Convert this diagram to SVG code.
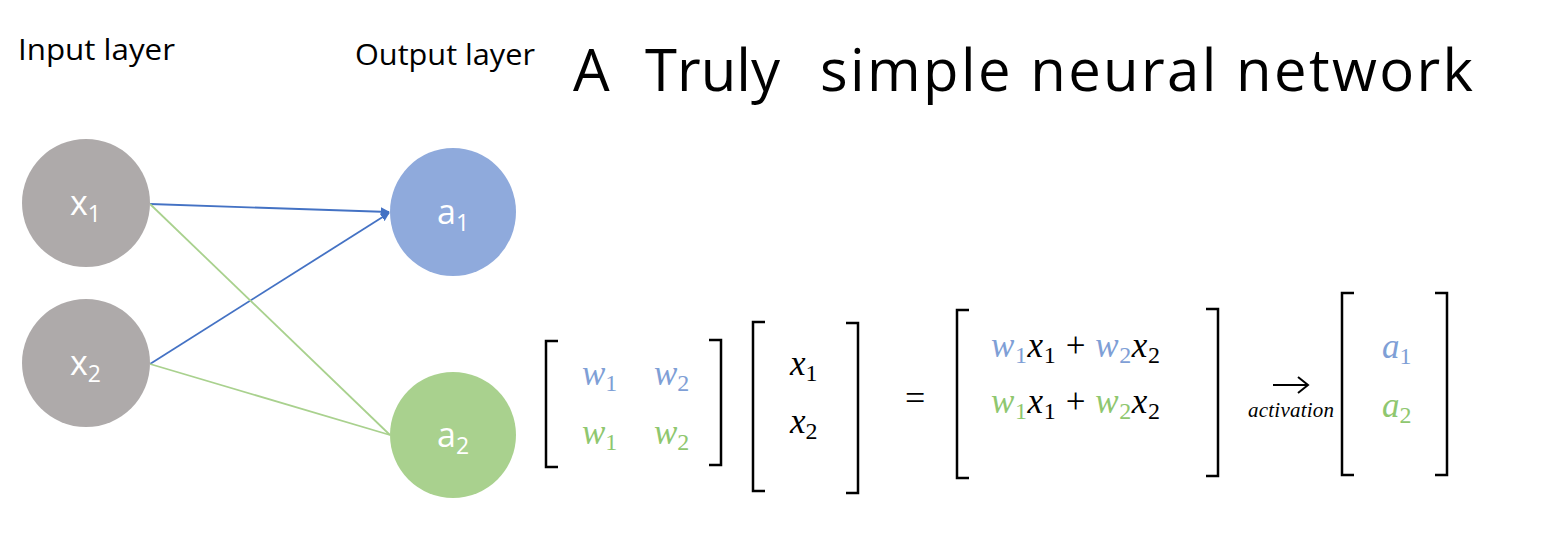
<svg xmlns="http://www.w3.org/2000/svg" width="1547" height="537" viewBox="0 0 1547 537">
<style>
.lbl{font-family:"Open Sans","Liberation Sans",sans-serif;fill:#000;font-size:29px}
.node{font-family:"Open Sans","Liberation Sans",sans-serif;fill:#fff;font-size:34px}
.sub{font-size:23px}
.m{font-family:"Liberation Serif","DejaVu Serif",serif;font-style:italic;font-size:35px}
.ms{font-family:"Liberation Serif","DejaVu Serif",serif;font-style:normal;font-size:24px}
.br{fill:none;stroke:#000;stroke-width:2.5}
.b{fill:#7f9fd6}
.g{fill:#8fc76f}
.k{fill:#000}
</style>
<defs>
<marker id="ah" viewBox="0 0 10 10" refX="9" refY="5" markerWidth="5" markerHeight="5" orient="auto">
<path d="M0,0 L10,5 L0,10 z" fill="#4472c4"/>
</marker>
</defs>
<rect width="1547" height="537" fill="#fff"/>
<text class="lbl" x="18" y="60" textLength="157" lengthAdjust="spacingAndGlyphs">Input layer</text>
<text class="lbl" x="355" y="65" textLength="180" lengthAdjust="spacingAndGlyphs">Output layer</text>
<g id="title" font-family="Open Sans,Liberation Sans,sans-serif" font-size="58">
<text x="573" y="91">A</text>
<text x="645" y="91" textLength="135">Truly</text>
<text x="820" y="91" textLength="653">simple neural network</text>
</g>
<g id="connectors" stroke-width="1.8" fill="none">
<line x1="150" y1="204" x2="389" y2="212" stroke="#4472c4" marker-end="url(#ah)"/>
<line x1="150" y1="364" x2="389" y2="213" stroke="#4472c4" marker-end="url(#ah)"/>
<line x1="150" y1="204" x2="390" y2="435" stroke="#a9d18e"/>
<line x1="150" y1="364" x2="390" y2="435" stroke="#a9d18e"/>
</g>
<g id="x1"><ellipse cx="86" cy="203" rx="64" ry="64" fill="#aeaaaa"/><text class="node" x="70" y="215">x<tspan class="sub" dy="7">1</tspan></text></g>
<g id="x2"><ellipse cx="86" cy="363" rx="64" ry="64" fill="#aeaaaa"/><text class="node" x="70" y="375">x<tspan class="sub" dy="7">2</tspan></text></g>
<g id="a1"><ellipse cx="453" cy="212" rx="63" ry="64" fill="#8faadc"/><text class="node" x="437" y="224">a<tspan class="sub" dy="7">1</tspan></text></g>
<g id="a2"><ellipse cx="453" cy="435" rx="63" ry="63" fill="#a9d18e"/><text class="node" x="437" y="447">a<tspan class="sub" dy="7">2</tspan></text></g>
<g id="matrixW">
<path class="br" d="M558,341 H546 V467 H558"/>
<path class="br" d="M709,340 H721 V465 H709"/>
<text class="m b" x="582" y="385">w<tspan class="ms" dy="6">1</tspan></text>
<text class="m b" x="654" y="385">w<tspan class="ms" dy="6">2</tspan></text>
<text class="m g" x="582" y="444">w<tspan class="ms" dy="6">1</tspan></text>
<text class="m g" x="654" y="444">w<tspan class="ms" dy="6">2</tspan></text>
</g>
<g id="vectorX">
<path class="br" d="M765,322 H753 V491 H765"/>
<path class="br" d="M846,323 H858 V493 H846"/>
<text class="m k" x="790" y="375">x<tspan class="ms" dy="6">1</tspan></text>
<text class="m k" x="790" y="433">x<tspan class="ms" dy="6">2</tspan></text>
</g>
<text font-family="Liberation Serif,serif" font-size="36" x="905" y="410">=</text>
<g id="result">
<path class="br" d="M969,310 H957 V478 H969"/>
<path class="br" d="M1206,309 H1218 V476 H1206"/>
<text class="m" x="991" y="357" textLength="169"><tspan class="b">w</tspan><tspan class="ms b" dy="6">1</tspan><tspan class="k" dy="-6">x</tspan><tspan class="ms k" dy="6">1</tspan><tspan class="k" dy="-6" font-style="normal"> + </tspan><tspan class="b">w</tspan><tspan class="ms b" dy="6">2</tspan><tspan class="k" dy="-6">x</tspan><tspan class="ms k" dy="6">2</tspan></text>
<text class="m" x="991" y="413" textLength="169"><tspan class="g">w</tspan><tspan class="ms g" dy="6">1</tspan><tspan class="k" dy="-6">x</tspan><tspan class="ms k" dy="6">1</tspan><tspan class="k" dy="-6" font-style="normal"> + </tspan><tspan class="g">w</tspan><tspan class="ms g" dy="6">2</tspan><tspan class="k" dy="-6">x</tspan><tspan class="ms k" dy="6">2</tspan></text>
</g>
<g id="activation">
<path d="M1273,385 H1307 M1298,377 L1308,385 L1298,393" fill="none" stroke="#000" stroke-width="2"/>
<text font-family="Liberation Serif,serif" font-style="italic" font-size="21" x="1248" y="417" textLength="86">activation</text>
</g>
<g id="vectorA">
<path class="br" d="M1354,293 H1342 V475 H1354"/>
<path class="br" d="M1435,293 H1447 V475 H1435"/>
<text class="m b" x="1382" y="358">a<tspan class="ms" dy="6">1</tspan></text>
<text class="m g" x="1382" y="417">a<tspan class="ms" dy="6">2</tspan></text>
</g>
</svg>
